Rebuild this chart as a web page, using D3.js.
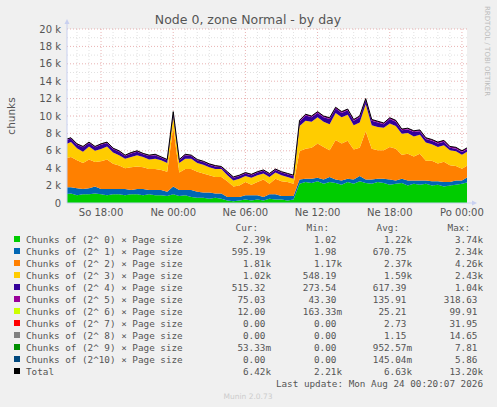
<!DOCTYPE html>
<html><head><meta charset="utf-8">
<script src="https://cdn.jsdelivr.net/npm/d3@7"></script>
<style>body{margin:0;background:#F0F0F0}svg{display:block}text{white-space:pre}</style>
</head><body><svg id="c" width="497" height="407"></svg>
<script>
// hours since Saturday 00:00, one sample every 30 min from 15:00
const startHour = 15, stepHours = 0.5;
const green = [1.0,1.1,0.9,1.0,1.0,1.1,1.0,0.9,1.0,1.0,0.9,1.0,1.0,0.9,1.0,0.9,0.9,0.8,1.0,
 0.8,0.9,0.7,0.6,0.6,0.5,0.6,0.5,0.3,0.2,0.3,0.4,0.3,0.4,0.3,0.5,0.4,0.4,0.3,0.4,
 2.2,2.4,2.3,2.5,2.2,2.4,2.3,2.1,2.4,2.2,2.5,2.3,2.2,2.4,2.3,2.1,2.2,2.3,2.0,2.2,2.1,2.2,2.0,2.1,1.9,2.0,2.1,2.2,2.4];
const blue = [0.8,0.7,0.8,0.6,0.7,0.8,0.6,0.7,0.6,0.6,0.7,0.5,0.6,0.7,0.5,0.6,0.6,0.5,0.9,
 0.7,0.6,0.8,0.7,0.6,0.7,0.5,0.6,0.4,0.5,0.4,0.5,0.6,0.5,0.4,0.5,0.6,0.4,0.5,0.4,
 0.5,0.4,0.5,0.4,0.5,0.6,0.4,0.5,0.4,0.5,0.6,0.4,0.5,0.4,0.5,0.6,0.4,0.5,0.6,0.4,0.5,0.4,0.5,0.4,0.5,0.4,0.5,0.4,0.6];
const orange = [3.3,3.5,3.2,3.0,3.3,2.8,3.2,3.4,2.9,2.7,2.4,2.6,2.6,2.5,2.4,2.4,2.3,2.3,6.8,
 2.0,2.4,2.4,2.3,2.2,2.0,1.9,1.9,1.8,1.2,1.3,1.5,1.2,1.5,2.0,1.2,1.8,1.7,1.6,1.4,
 3.25,3.45,3.55,3.95,3.75,3.05,4.55,4.25,4.35,3.45,3.25,5.55,3.55,3.25,3.25,3.75,3.65,2.75,3.05,2.75,3.05,2.25,2.35,2.05,2.35,1.95,1.65,1.35,1.35];
const yellow = [1.6,1.7,1.4,1.3,1.5,1.3,1.4,1.5,1.3,1.2,1.1,1.2,1.3,1.2,1.1,1.2,1.1,1.0,1.2,
 1.1,1.2,1.2,1.0,1.0,0.9,0.9,0.9,0.7,0.7,0.8,0.7,0.8,0.8,0.7,0.8,0.7,0.7,0.6,0.6,
 2.9,3.2,3.0,3.0,2.9,3.0,3.1,3.0,3.0,2.8,2.9,3.1,2.7,2.7,2.6,2.7,2.6,2.4,2.4,2.3,2.2,2.1,1.9,1.9,1.9,1.7,1.7,1.6,1.6];
const purple = [0.5,0.4,0.4,0.5,0.4,0.4,0.5,0.4,0.4,0.4,0.3,0.4,0.4,0.3,0.4,0.4,0.3,0.3,0.5,
 0.3,0.4,0.3,0.3,0.3,0.3,0.3,0.2,0.3,0.3,0.3,0.3,0.3,0.3,0.3,0.3,0.3,0.3,0.3,0.3,
 0.5,0.6,0.5,0.5,0.5,0.6,0.5,0.5,0.5,0.5,0.6,0.5,0.5,0.5,0.4,0.5,0.5,0.4,0.4,0.5,0.4,0.4,0.4,0.4,0.4,0.3,0.3,0.3,0.3];
const magenta = [0.1,0.1,0.1,0.1,0.1,0.1,0.1,0.1,0.1,0.1,0.1,0.1,0.1,0.1,0.1,0.1,0.1,0.1,0.1,
 0.1,0.1,0.1,0.1,0.1,0.1,0.1,0.1,0.1,0.1,0.1,0.1,0.1,0.1,0.1,0.1,0.1,0.1,0.1,0.1,
 0.15,0.15,0.15,0.15,0.15,0.15,0.15,0.15,0.15,0.15,0.15,0.15,0.15,0.15,0.15,0.15,0.15,0.15,0.15,0.15,0.15,0.15,0.15,0.15,0.15,0.15,0.15,0.15,0.15];
const total = [7.3,7.5,6.8,6.5,7.0,6.5,6.8,7.0,6.3,6.0,5.5,5.8,6.0,5.7,5.5,5.6,5.3,5.0,10.5,
 5.0,5.6,5.5,5.0,4.8,4.5,4.3,4.2,3.6,3.0,3.2,3.5,3.3,3.6,3.8,3.4,3.9,3.6,3.4,3.2,
 9.5,10.2,10.0,10.5,10.0,9.8,11.0,10.5,10.8,9.6,10.0,12.0,9.6,9.4,9.2,9.8,9.5,8.5,8.6,8.3,8.4,7.5,7.3,7.0,7.2,6.5,6.4,6.0,6.4];

const yTicks = [0,2,4,6,8,10,12,14,16,18,20];
const xTickHours = [18,24,30,36,42,48];
const xTickLabels = ["So 18:00","Ne 00:00","Ne 06:00","Ne 12:00","Ne 18:00","Po 00:00"];

const legendNames = ["Chunks of (2^ 0) × Page size","Chunks of (2^ 1) × Page size","Chunks of (2^ 2) × Page size","Chunks of (2^ 3) × Page size","Chunks of (2^ 4) × Page size","Chunks of (2^ 5) × Page size","Chunks of (2^ 6) × Page size","Chunks of (2^ 7) × Page size","Chunks of (2^ 8) × Page size","Chunks of (2^ 9) × Page size","Chunks of (2^10) × Page size","Total"];
const colors = ["#00CC00","#0066B3","#FF8000","#FFCC00","#330099","#990099","#CCFF00","#FF0000","#808080","#008F00","#00487D","#000000"];
const curV = ["2.39k","595.19 ","1.81k","1.02k","515.32 ","75.03 ","12.00 ","0.00 ","0.00 ","53.33m","0.00 ","6.42k"];
const minV = ["1.02 ","1.98 ","1.17k","548.19 ","273.54 ","43.30 ","163.33m","0.00 ","0.00 ","0.00 ","0.00 ","2.21k"];
const avgV = ["1.22k","670.75 ","2.37k","1.59k","617.39 ","135.91 ","25.21 ","2.73 ","1.15 ","952.57m","145.04m","6.63k"];
const maxV = ["3.74k","2.34k","4.26k","2.43k","1.04k","318.63 ","99.91 ","31.95 ","14.65 ","7.81 ","5.86 ","13.20k"];

const svg = d3.select("#c");
const L=67,R=467,T=29,B=203;
const x = d3.scaleLinear().domain([15.17,48.42]).range([L,R]);
const y = d3.scaleLinear().domain([0,20]).range([B,T]);
svg.append("rect").attr("x",L).attr("y",T).attr("width",R-L).attr("height",B-T).attr("fill","#fff");
const g = svg.append("g");
for(let v=1; v<20; v+=2) g.append("line").attr("x1",L).attr("x2",R).attr("y1",y(v)).attr("y2",y(v)).attr("stroke","#ccc").attr("stroke-width",0.6).attr("stroke-dasharray","1,2");
for(let h=16; h<=48; h++) if(h%6) g.append("line").attr("x1",x(h)).attr("x2",x(h)).attr("y1",T).attr("y2",B).attr("stroke","#ccc").attr("stroke-width",0.6).attr("stroke-dasharray","1,2");
yTicks.slice(1).forEach(v=>g.append("line").attr("x1",L).attr("x2",R).attr("y1",y(v)).attr("y2",y(v)).attr("stroke","#e09090").attr("stroke-width",0.7).attr("stroke-dasharray","1,2"));
xTickHours.forEach(h=>g.append("line").attr("x1",x(h)).attr("x2",x(h)).attr("y1",T).attr("y2",B).attr("stroke","#e09090").attr("stroke-width",0.7).attr("stroke-dasharray","1,2"));

const series=[green,blue,orange,yellow,purple,magenta];
const rows = total.map((t,i)=>{const o={h:startHour+i*stepHours}; series.forEach((s,k)=>o["s"+k]=s[i]); o.total=t; return o;});
const stack = d3.stack().keys(series.map((s,k)=>"s"+k))(rows);
const area = d3.area().x(d=>x(d.data.h)).y0(d=>y(d[0])).y1(d=>y(d[1]));
svg.append("clipPath").attr("id","cl").append("rect").attr("x",L).attr("y",T).attr("width",R-L).attr("height",B-T);
const pg = svg.append("g").attr("clip-path","url(#cl)");
stack.forEach((s,k)=>pg.append("path").datum(s).attr("d",area).attr("fill",colors[k]));
pg.append("path").datum(rows).attr("d",d3.line().x(d=>x(d.h)).y(d=>y(d.total))).attr("fill","none").attr("stroke","#000").attr("stroke-width",1);

const ax="#c8d0f0";
svg.append("line").attr("x1",L).attr("x2",L).attr("y1",B).attr("y2",T-7).attr("stroke",ax);
svg.append("path").attr("d",`M${L-2.5},${T-5}L${L},${T-10}L${L+2.5},${T-5}Z`).attr("fill",ax);
svg.append("line").attr("x1",L).attr("x2",R+7).attr("y1",B).attr("y2",B).attr("stroke",ax);
svg.append("path").attr("d",`M${R+5},${B-2.5}L${R+10},${B}L${R+5},${B+2.5}Z`).attr("fill",ax);
const tf={"font-family":"DejaVu Sans","font-size":"10px","fill":"#555"};
const st=(s,o)=>{for(const k in o) s.attr(k,o[k]); return s;};
yTicks.forEach(v=>st(svg.append("text"),tf).attr("x",L-6).attr("y",y(v)+3.5).attr("text-anchor","end").text(v?v+" k":"0"));
xTickHours.forEach((h,i)=>st(svg.append("text"),tf).attr("x",x(h)).attr("y",B+13).attr("text-anchor","middle").text(xTickLabels[i]));
st(svg.append("text"),{"font-family":"DejaVu Sans","font-size":"12.5px","fill":"#555"}).attr("x",248).attr("y",24).attr("text-anchor","middle").text("Node 0, zone Normal - by day");
st(svg.append("text"),{"font-family":"DejaVu Sans","font-size":"10.5px","fill":"#555"}).attr("transform","translate(15,116) rotate(-90)").attr("text-anchor","middle").text("chunks");
st(svg.append("text"),{"font-family":"DejaVu Sans","font-size":"7px","fill":"#bbb"}).attr("transform","translate(485,6) rotate(90)").text("RRDTOOL / TOBI OETIKER");

const mf={"font-family":"DejaVu Sans Mono","font-size":"9.3px","fill":"#555"};
[["Cur:",258],["Min:",329],["Avg:",399],["Max:",470]].forEach(([t,xx])=>st(svg.append("text"),mf).attr("x",xx).attr("y",231).attr("text-anchor","end").text(t));
legendNames.forEach((n,i)=>{
  const yy=243+i*12;
  svg.append("rect").attr("x",14).attr("y",yy-7).attr("width",6).attr("height",6).attr("fill",colors[i]);
  st(svg.append("text"),mf).attr("x",26).attr("y",yy).text(n);
  [[curV,271],[minV,342],[avgV,412],[maxV,483]].forEach(([a,xx])=>st(svg.append("text"),mf).attr("x",xx).attr("y",yy).attr("text-anchor","end").text(a[i]));
});
st(svg.append("text"),mf).attr("x",483).attr("y",387).attr("text-anchor","end").text("Last update: Mon Aug 24 00:20:07 2026");
st(svg.append("text"),{"font-family":"DejaVu Sans","font-size":"7.5px","fill":"#ccc"}).attr("x",248).attr("y",399).attr("text-anchor","middle").text("Munin 2.0.73");
</script></body></html>
